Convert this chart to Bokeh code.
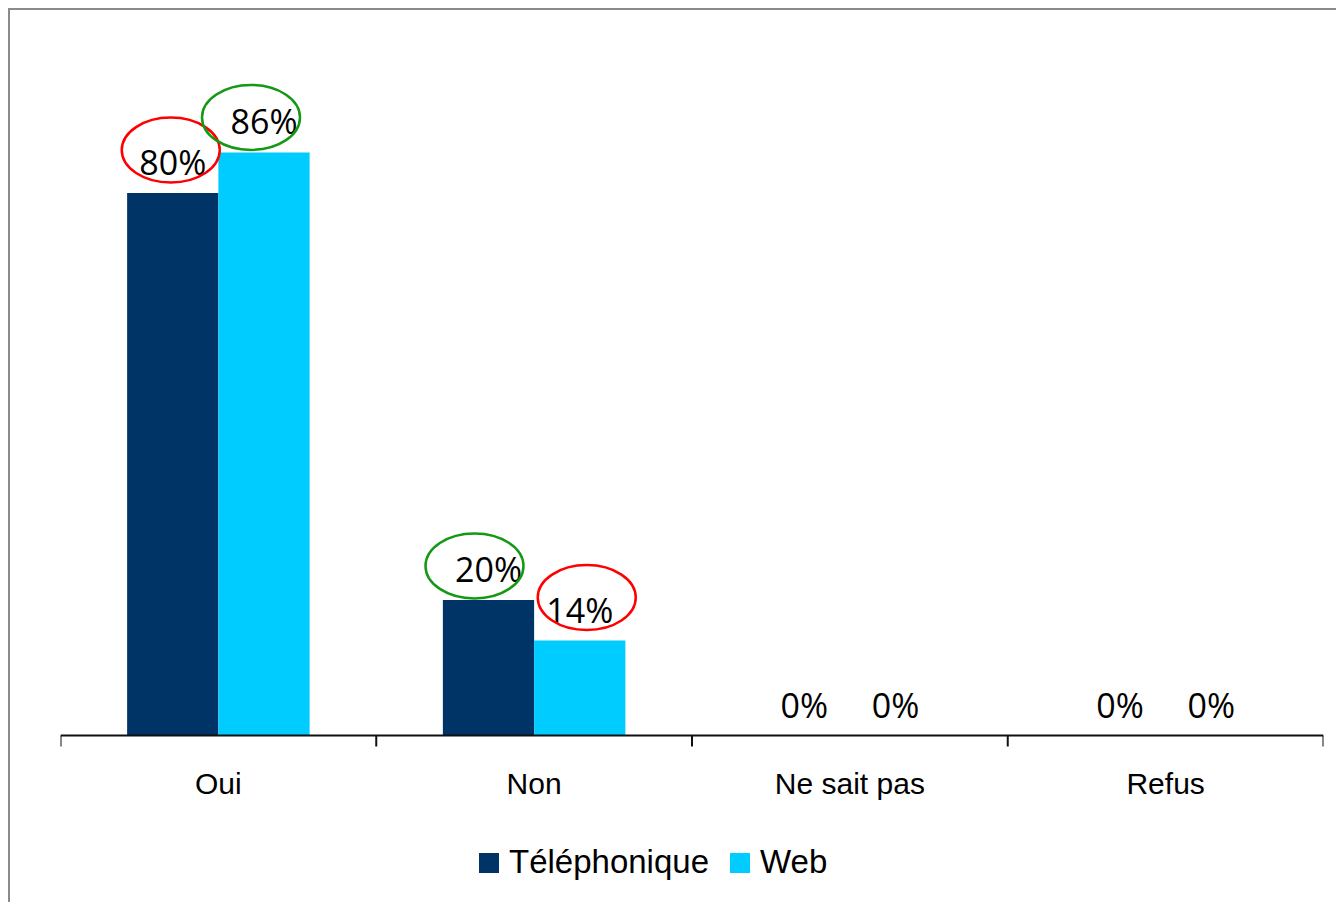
from bokeh.plotting import figure
from bokeh.models import (ColumnDataSource, Range1d, Legend, LegendItem)
from bokeh.core.properties import value
from bokeh.embed import file_html
from bokeh.resources import INLINE

categories = ["Oui", "Non", "Ne sait pas", "Refus"]
series_names = ["Téléphonique", "Web"]
telephonique = [0.80, 0.20, 0.0, 0.0]
web = [0.86, 0.14, 0.0, 0.0]
colors = ["#003366", "#00CCFF"]

# highlighted labels (annotation circles): (category index, series index, colour)
highlights = [(0, 0, "#FF0000"), (0, 1, "#139913"), (1, 0, "#139913"), (1, 1, "#FF0000")]
# small pixel nudges of the hand-drawn ellipses relative to the bar top
ell_dx = [-2, -13, -14, 7]
ell_dy = [43, 35, 34, 43]

W, H = 1328, 894
L, R, T = 50, 15, 47
AXIS_Y = 725            # baseline position inside the figure (px from top)
frame_w = W - L - R
plot_h = AXIS_Y - T     # pixels for 0..100 %
px_x = len(categories) / frame_w
px_y = 1.0 / plot_h
y_start = -(H - AXIS_Y) * px_y

p = figure(width=W, height=H, output_backend="svg", toolbar_location=None,
           x_range=Range1d(0, len(categories)), y_range=Range1d(y_start, 1.0),
           min_border_left=L, min_border_right=R, min_border_top=T, min_border_bottom=0,
           background_fill_color="white", border_fill_color="white")
p.styles = {"border-top": "2px solid #8a8a8a", "border-left": "2px solid #8a8a8a",
            "margin": "8px 0 0 8px"}
p.outline_line_color = None
p.xaxis.visible = False
p.yaxis.visible = False
p.xgrid.grid_line_color = None
p.ygrid.grid_line_color = None

offset = 0.1445
bw = 2 * offset
series = [telephonique, web]
renderers = []
for si, vals in enumerate(series):
    dx = -offset if si == 0 else offset
    xs = [i + 0.5 + dx for i in range(len(categories))]
    src = ColumnDataSource(dict(x=xs, top=vals, ly=[v + 31 * px_y for v in vals],
                                lab=[f"{round(v*100)}%" for v in vals]))
    r = p.vbar(x="x", top="top", width=bw, bottom=0, source=src,
               fill_color=colors[si], line_color=None)
    renderers.append(r)
    p.text(x="x", y="ly", text="lab", source=src, text_align="center",
           text_baseline="alphabetic", text_color="black",
           text_font=value("Open Sans"), text_font_size="34px")

ex, ey, ec = [], [], []
for k, (ci, si, c) in enumerate(highlights):
    dx = -offset if si == 0 else offset
    ex.append(ci + 0.5 + dx + ell_dx[k] * px_x)
    ey.append(series[si][ci] + ell_dy[k] * px_y)
    ec.append(c)
p.ellipse(x=ex, y=ey, width=98, height=65, width_units="screen", height_units="screen",
          fill_color=None, line_color=ec, line_width=2.5)

# category axis: baseline, boundary ticks, labels
n = len(categories)
p.segment(x0=[0], y0=[0], x1=[n], y1=[0], line_color="#111111", line_width=2)
p.segment(x0=list(range(n + 1)), y0=[0] * (n + 1), x1=list(range(n + 1)),
          y1=[-11 * px_y] * (n + 1), line_color="#111111", line_width=2)
p.text(x=[i + 0.5 for i in range(n)], y=[-48 * px_y] * n, text=categories,
       text_align="center", text_baseline="alphabetic", text_color="black",
       text_font=value("Liberation Sans"), text_font_size="30px")

legend = Legend(items=[LegendItem(label=nm, renderers=[r]) for nm, r in zip(series_names, renderers)],
                orientation="horizontal", location=(416, 23),
                label_text_font="Liberation Sans", label_text_font_size="33px",
                label_text_color="black", glyph_width=25, glyph_height=25,
                label_standoff=8, spacing=18, padding=12, margin=0,
                border_line_color=None, background_fill_color="white")
p.add_layout(legend)

open("out.html", "w").write(file_html(p, INLINE))
